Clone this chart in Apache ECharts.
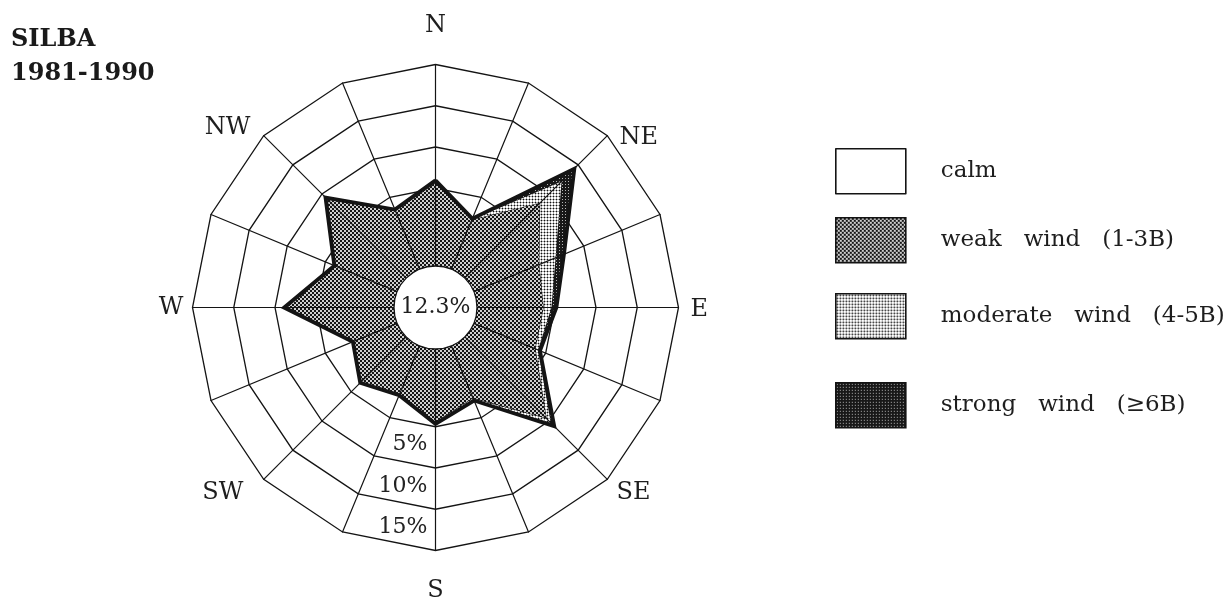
<!DOCTYPE html>
<html>
<head>
<meta charset="utf-8">
<title>SILBA 1981-1990 wind rose</title>
<script src="https://cdn.jsdelivr.net/npm/echarts@6/dist/echarts.min.js"></script>
<style>
  html, body { margin: 0; padding: 0; background: #ffffff; }
  #chart { width: 1228px; height: 604px; }
</style>
</head>
<body>
<div id="chart"></div>
<script>
// Wind frequency (%) by direction, station Silba, 1981-1990
const directions = ['N', 'NNE', 'NE', 'ENE', 'E', 'ESE', 'SE', 'SSE', 'S', 'SSW', 'SW', 'WSW', 'W', 'WNW', 'NW', 'NNW'];
const directionLabels = ['N', '', 'NE', '', 'E', '', 'SE', '', 'S', '', 'SW', '', 'W', '', 'NW', ''];
const weakWind = [5.6, 2.0, 8.4, 4.1, 3.6, 3.6, 9.5, 2.4, 4.4, 1.9, 3.25, 1.25, 8.5, 3.6, 9.0, 3.2];
const moderateWind = [0.2, 0.1, 3.75, 2.2, 1.0, 0.4, 0.8, 0.2, 0.15, 0.08, 0.1, 0.07, 0.25, 0.12, 0.25, 0.1];
const strongWind = [0.15, 0.1, 2.2, 1.1, 0.6, 0.25, 0.6, 0.15, 0.12, 0.08, 0.1, 0.07, 0.15, 0.1, 0.15, 0.1];
const calmShare = 12.3;
const classNames = ['calm', 'weak wind (1-3B)', 'moderate wind (4-5B)', 'strong wind (≥6B)'];
const ringStep = 5;
const ringMax = 20;

const FONT = 'DejaVu Serif';
const INK = '#141414';
const cx = 435.5, cy = 307.5;

// Screen-tone fills for the wind classes
function tone(size, draw) {
  const c = document.createElement('canvas');
  c.width = c.height = size;
  const g = c.getContext('2d');
  draw(g, size);
  return { image: c, repeat: 'repeat' };
}
// coarse checker
const weakFill = tone(4, (g) => {
  g.fillStyle = '#cfcfcf'; g.fillRect(0, 0, 4, 4);
  g.fillStyle = '#151515'; g.fillRect(0, 0, 2, 2); g.fillRect(2, 2, 2, 2);
});
// sparse round dots
const moderateFill = tone(3, (g) => {
  g.fillStyle = '#ffffff'; g.fillRect(0, 0, 3, 3);
  g.fillStyle = '#a8a8a8';
  g.fillRect(0, 1, 1, 1); g.fillRect(2, 1, 1, 1); g.fillRect(1, 0, 1, 1); g.fillRect(1, 2, 1, 1);
  g.fillStyle = '#111111'; g.fillRect(1, 1, 1, 1);
});
// near-black with light specks
const strongFill = tone(3, (g) => {
  g.fillStyle = '#181818'; g.fillRect(0, 0, 3, 3);
  g.fillStyle = '#b5b5b5'; g.fillRect(1, 1, 1, 1);
});
const calmFill = '#ffffff';
const classFills = [calmFill, weakFill, moderateFill, strongFill];

// Cumulative layers: weak, weak+moderate, all winds
const layerWeak = weakWind.slice();
const layerModerate = weakWind.map((v, i) => v + moderateWind[i]);
const layerAll = layerModerate.map((v, i) => v + strongWind[i]);

// The radar runs counter-clockwise from north, so reverse the compass order after N
const radarOrder = directions.map((_, i) => (directions.length - i) % directions.length);
const toRadar = (arr) => radarOrder.map((i) => arr[i]);
const southSlot = radarOrder.indexOf(directions.indexOf('S'));

const ringLabel = {
  show: true,
  margin: -8,
  align: 'right',
  verticalAlign: 'top',
  padding: [7, 0, 0, 0],
  fontFamily: FONT,
  fontSize: 22,
  color: '#222',
  formatter: (v) => (v > 0 && v < ringMax ? v + '%' : '')
};

const indicators = radarOrder.map((i, k) => {
  const ind = { name: directionLabels[i], min: 0, max: ringMax };
  if (k === southSlot) ind.axisLabel = ringLabel;
  return ind;
});
const spokeIndicators = radarOrder.map(() => ({ name: '', min: 0, max: ringMax }));

// Fine placement of the compass names
const nameRich = {
  N: { padding: [0, 0, 21, 0] },
  S: { padding: [22, 0, 0, 0] },
  E: { padding: [5, 0, 0, 6] },
  W: { padding: [0, 3, 0, 0] },
  NE: { padding: [12, 0, 0, 8] },
  SE: { padding: [18, 0, 0, 5] },
  SW: { padding: [18, 16, 0, 0] },
  NW: { padding: [0, 9, 8, 0] }
};

const chart = echarts.init(document.getElementById('chart'), null, { renderer: 'canvas' });

chart.setOption({
  animation: false,
  backgroundColor: '#ffffff',
  title: {
    text: 'SILBA\n1981-1990',
    left: 11,
    top: 23,
    padding: 0,
    textStyle: { fontFamily: FONT, fontWeight: 'bold', fontSize: 24, lineHeight: 34, color: '#1a1a1a' }
  },
  legend: classNames.map((name, i) => ({
    left: 835,
    top: [148, 217, 293, 382][i],
    orient: 'vertical',
    padding: 0,
    itemWidth: 70,
    itemHeight: 45,
    icon: 'rect',
    selectedMode: false,
    data: [{ name: name, itemStyle: { color: classFills[i], borderColor: INK, borderWidth: 1.6, opacity: 1 } }],
    formatter: (n) => n.replace(/ /g, '   '),
    textStyle: { fontFamily: FONT, fontSize: 23, color: '#1e1e1e', padding: [0, 0, 0, 30] }
  })),
  radar: [
    {
      center: [cx, cy],
      radius: [78, 243],
      startAngle: 90,
      shape: 'polygon',
      splitNumber: ringMax / ringStep,
      indicator: indicators,
      axisNameGap: 6,
      axisName: {
        show: true,
        color: '#1e1e1e',
        fontFamily: FONT,
        fontSize: 24,
        formatter: (name) => (name ? '{' + name + '|' + name + '}' : ''),
        rich: nameRich
      },
      splitLine: { lineStyle: { color: INK, width: 1.3 } },
      splitArea: { show: false },
      axisLine: { show: false },
      axisTick: { show: false },
      axisLabel: { show: false },
      z: 1
    },
    {
      center: [cx, cy],
      radius: [41.5, 243],
      startAngle: 90,
      shape: 'polygon',
      splitNumber: 1,
      indicator: spokeIndicators,
      axisName: { show: false },
      splitLine: { show: false },
      splitArea: { show: false },
      axisLine: { lineStyle: { color: INK, width: 1.2 } },
      axisTick: { show: false },
      axisLabel: { show: false },
      silent: true,
      z: 3
    }
  ],
  series: [
    {
      type: 'radar',
      radarIndex: 0,
      z: 2,
      symbol: 'none',
      silent: true,
      data: [
        {
          name: classNames[3],
          value: toRadar(layerAll),
          areaStyle: { color: strongFill, opacity: 1 },
          lineStyle: { color: INK, width: 1, join: 'miter' }
        },
        {
          name: classNames[2],
          value: toRadar(layerModerate),
          areaStyle: { color: moderateFill, opacity: 1 },
          lineStyle: { color: INK, width: 1.1, join: 'miter' }
        },
        {
          name: classNames[1],
          value: toRadar(layerWeak),
          areaStyle: { color: weakFill, opacity: 1 },
          lineStyle: { color: INK, width: 1.1, join: 'miter' }
        }
      ]
    },
    {
      // heavy outline of the whole rose
      type: 'radar',
      name: 'outline',
      radarIndex: 0,
      z: 2,
      symbol: 'none',
      silent: true,
      data: [
        { value: toRadar(layerAll), lineStyle: { color: INK, width: 3.8, join: 'miter' } }
      ]
    },
    {
      type: 'pie',
      z: 4,
      center: [cx, cy],
      radius: [0, 41.5],
      silent: true,
      emphasis: { disabled: true },
      label: {
        show: true,
        position: 'center',
        formatter: '{c}%',
        fontFamily: FONT,
        fontSize: 22,
        color: '#1e1e1e'
      },
      labelLine: { show: false },
      data: [
        { name: classNames[0], value: calmShare, itemStyle: { color: calmFill, borderColor: INK, borderWidth: 1.3 } }
      ]
    }
  ]
});
</script>
</body>
</html>
